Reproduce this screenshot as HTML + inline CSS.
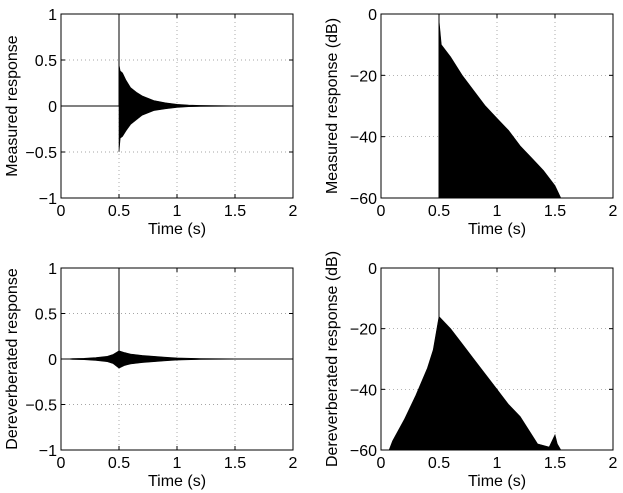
<!DOCTYPE html>
<html><head><meta charset="utf-8"><style>
body{margin:0;background:#fff}
svg{display:block;font-family:"Liberation Sans",sans-serif}
</style></head><body>
<svg id="fig" width="623" height="493"></svg>
<script>
// Data (envelopes)
const tlTimes=[0.5,0.51,0.53,0.56,0.6,0.65,0.7,0.8,0.9,1.0,1.1,1.2,1.5,2.0];
const tlUpper=[0.45,0.38,0.36,0.28,0.2,0.15,0.11,0.06,0.035,0.018,0.01,0.006,0.002,0.0];
const tlLower=[-0.5,-0.35,-0.33,-0.27,-0.2,-0.15,-0.1,-0.05,-0.03,-0.015,-0.008,-0.005,-0.002,0.0];
const trTimes=[0.5,0.52,0.6,0.7,0.8,0.9,1.0,1.1,1.2,1.3,1.4,1.5,1.55];
const trUpper=[-2,-10,-14,-20,-25,-30,-34,-38,-43,-47,-51,-56,-60];
const blTimes=[0.05,0.1,0.2,0.3,0.4,0.45,0.5,0.55,0.6,0.7,0.8,0.9,1.0,1.2,1.5,2.0];
const blUpper=[0.0,0.004,0.008,0.015,0.03,0.05,0.09,0.07,0.055,0.04,0.03,0.02,0.012,0.006,0.002,0];
const blLower=[0.0,-0.004,-0.008,-0.015,-0.03,-0.05,-0.1,-0.07,-0.055,-0.04,-0.03,-0.02,-0.012,-0.006,-0.002,0];
const brTimes=[0.07,0.1,0.2,0.3,0.4,0.45,0.5,0.55,0.6,0.7,0.8,0.9,1.0,1.1,1.2,1.3,1.35,1.45,1.5,1.52,1.55];
const brUpper=[-60,-57,-50,-42,-33,-27,-16,-18,-20,-25,-30,-35,-40,-45,-49,-55,-58,-59,-55,-58,-60];
const spikeTime=0.5;
const xTicks=[0,0.5,1,1.5,2];
const linTicks=[1,0.5,0,-0.5,-1];
const dbTicks=[0,-20,-40,-60];

const NS="http://www.w3.org/2000/svg";
const svg=document.getElementById('fig');
function el(t,a,p){const e=document.createElementNS(NS,t);for(const k in a)e.setAttribute(k,a[k]);(p||svg).appendChild(e);return e;}
function fmt(v){return (v<0?'\u2212':'')+String(Math.abs(v));}

function panel(name,L,R,T,B,ymin,ymax,yTicks,ylabel){
  const g=el('g',{});
  
  
  const sx=v=>L+(v-0)/(2-0)*(R-L);
  const sy=v=>B-(v-ymin)/(ymax-ymin)*(B-T);
  // grid
  xTicks.forEach(t=>{ if(t>0&&t<2){const l=el('line',{x1:sx(t),x2:sx(t),y1:T,y2:B,stroke:'#888','stroke-width':0.7,'stroke-dasharray':'1,3'},g);}});
  yTicks.forEach(t=>{ if(t>ymin&&t<ymax){const l=el('line',{x1:L,x2:R,y1:sy(t),y2:sy(t),stroke:'#888','stroke-width':0.7,'stroke-dasharray':'1,3'},g);}});
  const sc={sx,sy,g};
  return sc;
}
function frame(name,sc,L,R,T,B,yTicks,ylabel){
  const g=sc.g;
  const r=el('rect',{x:L,y:T,width:R-L,height:B-T,fill:'none',stroke:'#000','stroke-width':1},g);
  
  xTicks.forEach(t=>{
    const x=sc.sx(t);
    el('line',{x1:x,x2:x,y1:B,y2:B-4,stroke:'#000'},g);el('line',{x1:x,x2:x,y1:T,y2:T+4,stroke:'#000'},g);
    const tx=el('text',{x:x,y:B+18,'text-anchor':'middle','font-size':16},g);tx.textContent=String(t);
    
  });
  yTicks.forEach(t=>{
    const y=sc.sy(t);
    el('line',{x1:L,x2:L+4,y1:y,y2:y,stroke:'#000'},g);el('line',{x1:R,x2:R-4,y1:y,y2:y,stroke:'#000'},g);
    const tx=el('text',{x:L-4,y:y+6,'text-anchor':'end','font-size':16},g);tx.textContent=fmt(t);
    
  });
  const xl=el('text',{x:(L+R)/2,y:B+36,'text-anchor':'middle','font-size':16},g);xl.textContent='Time (s)';
  
  const cy=(T+B)/2;
  const yl=el('text',{x:0,y:0,'text-anchor':'middle','font-size':16,transform:`translate(${L-44},${cy}) rotate(-90)`},g);yl.textContent=ylabel;
  
}
function envPath(sc,ts,up,lo){
  let d='';ts.forEach((t,i)=>{d+=(i?'L':'M')+sc.sx(t).toFixed(1)+','+sc.sy(up[i]).toFixed(1);});
  for(let i=ts.length-1;i>=0;i--)d+='L'+sc.sx(ts[i]).toFixed(1)+','+sc.sy(lo[i]).toFixed(1);
  return d+'Z';
}

// Top-left
let L=61,R=293,T=14,B=198;
let s=panel('measured-linear-panel',L,R,T,B,-1,1,linTicks);
let l0=el('line',{x1:s.sx(0),x2:s.sx(2),y1:s.sy(0),y2:s.sy(0),stroke:'#000','stroke-width':1},s.g);

let p=el('path',{d:envPath(s,tlTimes,tlUpper,tlLower),fill:'#000',stroke:'#000','stroke-width':0.6},s.g);

let sp=el('line',{x1:s.sx(spikeTime),x2:s.sx(spikeTime),y1:s.sy(1),y2:s.sy(0),stroke:'#000'},s.g);

frame('tl',s,L,R,T,B,linTicks,'Measured response');

// Top-right
L=381;R=613;T=14;B=198;
s=panel('measured-db-panel',L,R,T,B,-60,0,dbTicks);
p=el('path',{d:envPath(s,trTimes,trUpper,trTimes.map(()=>-60)),fill:'#000',stroke:'#000','stroke-width':0.6},s.g);

sp=el('line',{x1:s.sx(spikeTime),x2:s.sx(spikeTime),y1:s.sy(0),y2:s.sy(-60),stroke:'#000'},s.g);

frame('tr',s,L,R,T,B,dbTicks,'Measured response (dB)');

// Bottom-left
L=61;R=293;T=268;B=450;
s=panel('dereverberated-linear-panel',L,R,T,B,-1,1,linTicks);
l0=el('line',{x1:s.sx(0),x2:s.sx(2),y1:s.sy(0),y2:s.sy(0),stroke:'#000','stroke-width':1},s.g);

p=el('path',{d:envPath(s,blTimes,blUpper,blLower),fill:'#000',stroke:'#000','stroke-width':0.6},s.g);

sp=el('line',{x1:s.sx(spikeTime),x2:s.sx(spikeTime),y1:s.sy(1),y2:s.sy(0),stroke:'#000'},s.g);

frame('bl',s,L,R,T,B,linTicks,'Dereverberated response');

// Bottom-right
L=381;R=613;T=268;B=450;
s=panel('dereverberated-db-panel',L,R,T,B,-60,0,dbTicks);
p=el('path',{d:envPath(s,brTimes,brUpper,brTimes.map(()=>-60)),fill:'#000',stroke:'#000','stroke-width':0.6},s.g);

sp=el('line',{x1:s.sx(spikeTime),x2:s.sx(spikeTime),y1:s.sy(0),y2:s.sy(-60),stroke:'#000'},s.g);

frame('br',s,L,R,T,B,dbTicks,'Dereverberated response (dB)');
</script>
</body></html>
